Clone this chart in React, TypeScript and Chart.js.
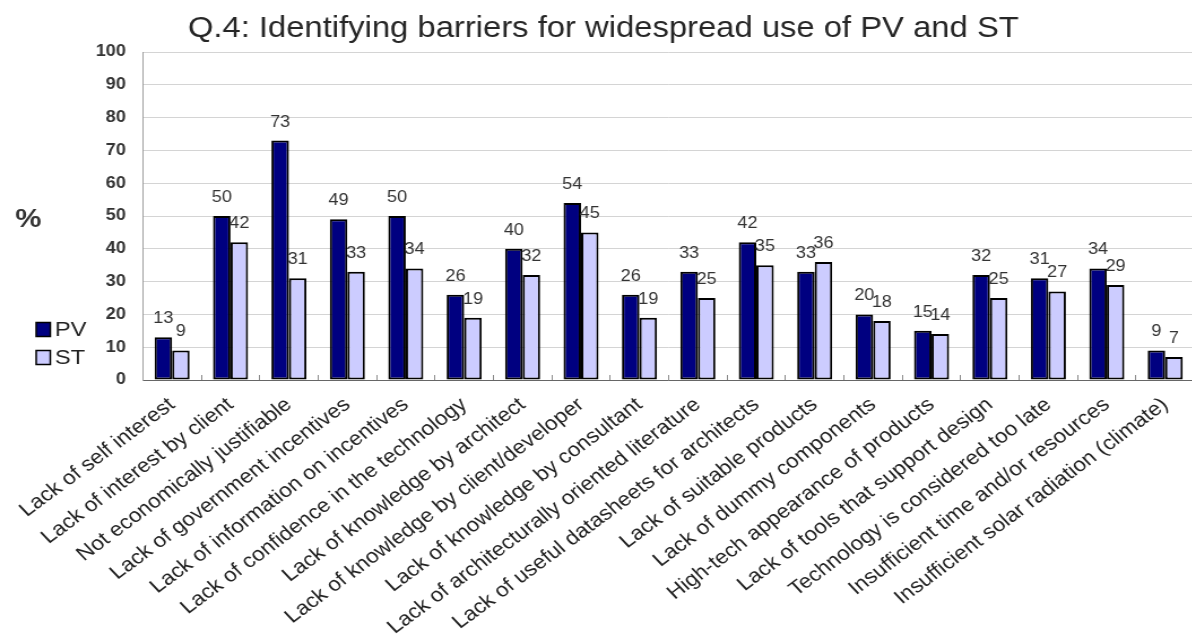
import React, { useEffect, useRef } from 'react';
import { Chart, registerables } from 'chart.js';

Chart.register(...registerables);

const chartTitle = 'Q.4: Identifying barriers for widespread use of PV and ST';
const yAxisLabel = '%';

const categories = [
  'Lack of self interest',
  'Lack of interest by client',
  'Not economically justifiable',
  'Lack of government incentives',
  'Lack of information on incentives',
  'Lack of confidence in the technology',
  'Lack of knowledge by architect',
  'Lack of knowledge by client/developer',
  'Lack of knowledge by consultant',
  'Lack of architecturally oriented literature',
  'Lack of useful datasheets for architects',
  'Lack of suitable products',
  'Lack of dummy components',
  'High-tech appearance of products',
  'Lack of tools that support design',
  'Technology is considered too late',
  'Insufficient time and/or resources',
  'Insufficient solar radiation (climate)',
];

const seriesNames = ['PV', 'ST'];
const pvValues = [13, 50, 73, 49, 50, 26, 40, 54, 26, 33, 42, 33, 20, 15, 32, 31, 34, 9];
const stValues = [9, 42, 31, 33, 34, 19, 32, 45, 19, 25, 35, 36, 18, 14, 25, 27, 29, 7];

const yMin = 0;
const yMax = 100;
const yStep = 10;

const FONT = '"Liberation Sans", Arial, Helvetica, sans-serif';

// internal canvas is drawn narrower and stretched horizontally by CSS
const CANVAS_W = 1058;
const CANVAS_H = 637;
const CSS_W = 1196;

const decorPlugin = {
  id: 'decor',
  afterDatasetsDraw(chart: any) {
    const ctx = chart.ctx;
    ctx.save();
    // data labels
    ctx.font = `16px ${FONT}`;
    ctx.fillStyle = '#333333';
    ctx.textAlign = 'center';
    ctx.textBaseline = 'alphabetic';
    chart.data.datasets.forEach((ds: any, di: number) => {
      const meta = chart.getDatasetMeta(di);
      meta.data.forEach((el: any, i: number) => {
        ctx.fillText(String(ds.data[i]), el.x, el.y - 14);
      });
    });
    ctx.restore();
  },
  afterDraw(chart: any) {
    const ctx = chart.ctx;
    ctx.save();
    // title
    ctx.font = `29px ${FONT}`;
    ctx.fillStyle = '#262626';
    ctx.textAlign = 'center';
    ctx.textBaseline = 'alphabetic';
    ctx.fillText(chartTitle, 533.7, 37);

    // y axis label
    ctx.font = `bold 26px ${FONT}`;
    ctx.fillStyle = '#333333';
    ctx.fillText(yAxisLabel, 25, 227);

    // legend
    const boxX = 32;
    const boxYs = [322.5, 350.5];
    const textYs = [336, 364];
    ctx.textAlign = 'left';
    ctx.font = `21px ${FONT}`;
    chart.data.datasets.forEach((ds: any, di: number) => {
      ctx.fillStyle = ds.backgroundColor;
      ctx.fillRect(boxX, boxYs[di], 12.5, 14);
      ctx.lineWidth = 1.5;
      ctx.strokeStyle = '#000000';
      ctx.strokeRect(boxX, boxYs[di], 12.5, 14);
      ctx.fillStyle = '#222222';
      ctx.fillText(ds.label, 48.5, textYs[di]);
    });
    ctx.restore();
  },
};

export default function App() {
  const canvasRef = useRef<HTMLCanvasElement | null>(null);

  useEffect(() => {
    document.body.style.margin = '0';
    const canvas = canvasRef.current;
    if (!canvas) return;
    const chart = new Chart(canvas, {
      type: 'bar',
      data: {
        labels: categories,
        datasets: [
          {
            label: seriesNames[0],
            data: pvValues,
            backgroundColor: '#000080',
            borderColor: '#000000',
            borderWidth: 2,
            borderSkipped: false,
            barPercentage: 1,
            categoryPercentage: 0.6,
          },
          {
            label: seriesNames[1],
            data: stValues,
            backgroundColor: '#ccccff',
            borderColor: '#000000',
            borderWidth: 2,
            borderSkipped: false,
            barPercentage: 1,
            categoryPercentage: 0.6,
          },
        ],
      },
      options: {
        responsive: false,
        animation: false,
        devicePixelRatio: 1,
        layout: { padding: { top: 52, right: 1.4, bottom: 0, left: 0 } },
        plugins: {
          legend: { display: false },
          title: { display: false },
          tooltip: { enabled: false },
        },
        scales: {
          x: {
            grid: {
              display: true,
              drawOnChartArea: false,
              drawTicks: true,
              tickLength: -5,
              color: '#8a8a8a',
              lineWidth: 1,
            },
            border: { display: true, color: '#666666', width: 1 },
            ticks: {
              autoSkip: false,
              minRotation: 40,
              maxRotation: 40,
              padding: 18,
              color: '#222222',
              font: { family: FONT, size: 20 },
            },
            afterFit: (scale: any) => {
              scale.height = 257;
              scale.paddingLeft = 0;
              scale.paddingRight = 0;
            },
          },
          y: {
            min: yMin,
            max: yMax,
            ticks: {
              stepSize: yStep,
              padding: 15,
              color: '#333333',
              font: { family: FONT, size: 16, weight: 'bold' },
            },
            grid: {
              color: '#d4d4d4',
              lineWidth: 1,
              drawTicks: false,
            },
            border: { display: true, color: '#9a9a9a', width: 1 },
            afterFit: (scale: any) => {
              scale.width = 126.4;
            },
          },
        },
      },
      plugins: [decorPlugin],
    } as any);
    return () => {
      chart.destroy();
    };
  }, []);

  return (
    <div
      style={{
        position: 'absolute',
        left: 0,
        top: 0,
        width: 1192,
        height: 637,
        overflow: 'hidden',
        background: '#ffffff',
      }}
    >
      <canvas
        ref={canvasRef}
        width={CANVAS_W}
        height={CANVAS_H}
        style={{ width: `${CSS_W}px`, height: `${CANVAS_H}px`, display: 'block' }}
      />
    </div>
  );
}
